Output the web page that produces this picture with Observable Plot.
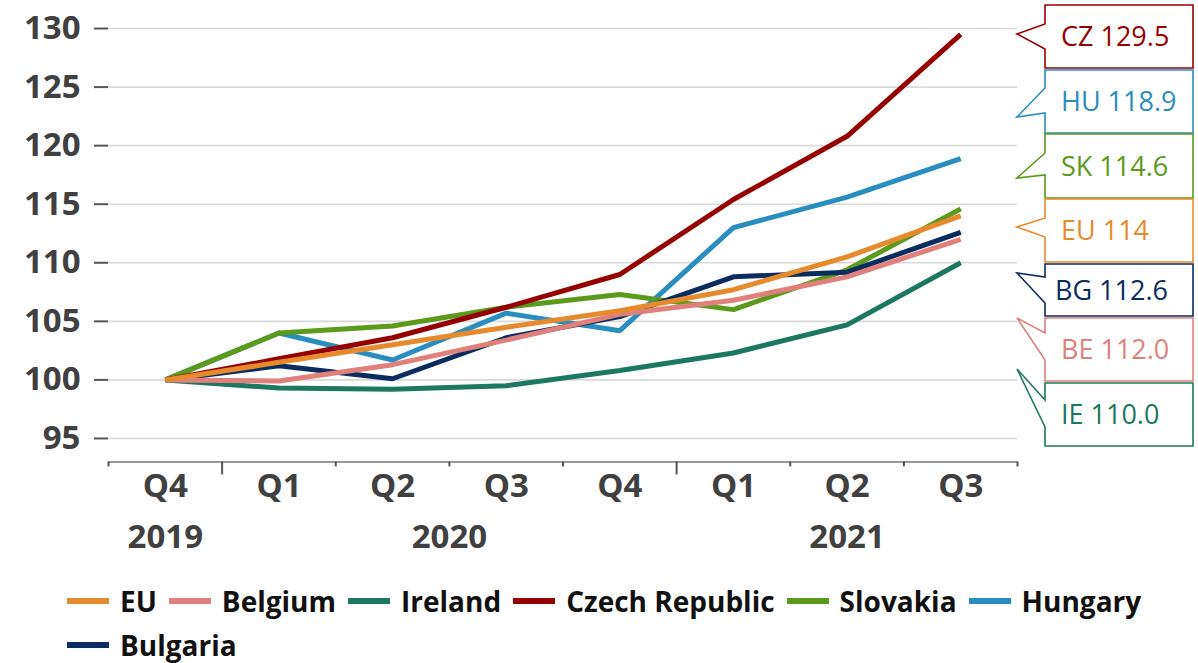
<!DOCTYPE html>
<html><head><meta charset="utf-8">
<script src="https://cdn.jsdelivr.net/npm/d3@7"></script>
<script src="https://cdn.jsdelivr.net/npm/@observablehq/plot@0.6"></script>
<style>
body{margin:0;background:#fff;font-family:"Open Sans",sans-serif;}
#wrap{position:relative;width:1198px;height:663px;overflow:hidden;}
#legend{position:absolute;left:67px;top:579px;width:1120px;display:flex;flex-wrap:wrap;column-gap:12px;}
.item{display:flex;align-items:center;height:44px;}
.sw{display:inline-block;width:42px;height:6px;margin-right:11px;}
.lbl{font-weight:700;font-size:28px;color:#111;line-height:26px;}
</style></head><body><div id="wrap"><div id="chart"></div><div id="legend"></div></div>
<script>
// categories / tick labels
const quarters = ["Q4","Q1","Q2","Q3","Q4","Q1","Q2","Q3"];
const yearLabels = ["2019","2020","2021"];
const yearPos = [0, 2.5, 6];
const yTicks = [95,100,105,110,115,120,125,130];

// series values (index, Q4 2019 = 100)
const eu = [100,101.5,103.0,104.5,105.9,107.7,110.5,114.0];
const belgium = [100,99.9,101.3,103.4,105.6,106.8,108.8,112.0];
const ireland = [100,99.3,99.2,99.5,100.8,102.3,104.7,110.0];
const czech = [100,101.8,103.6,106.2,109.0,115.4,120.8,129.5];
const slovakia = [100,104.0,104.6,106.2,107.3,106.0,109.4,114.6];
const hungary = [100,104.0,101.7,105.7,104.2,113.0,115.6,118.9];
const bulgaria = [100,101.2,100.1,103.6,105.4,108.8,109.2,112.6];

// legend / colours
const legendNames = ["EU","Belgium","Ireland","Czech Republic","Slovakia","Hungary","Bulgaria"];
const legendColors = ["#E68A2E","#DF817A","#1C7860","#950000","#5B9A1B","#2A8DC0","#0A2C5E"];

// callout labels
const calloutText = ["CZ 129.5","HU 118.9","SK 114.6","EU 114","BG 112.6","BE 112.0","IE 110.0"];
const calloutColors = ["#950000","#2A8DC0","#5B9A1B","#E68A2E","#0A2C5E","#DF817A","#1C7860"];

const seriesValues = [eu, belgium, ireland, czech, slovakia, hungary, bulgaria];
const rows = [];
seriesValues.forEach((vals, s) => vals.forEach((v, i) => rows.push({name: legendNames[s], i, v})));
// drawing order
const drawOrder = ["Ireland","Hungary","Slovakia","Czech Republic","Bulgaria","Belgium","EU"];
const colorOf = Object.fromEntries(legendNames.map((n, k) => [n, legendColors[k]]));

// callout geometry (layout only)
const boxTops = [5,70,134,199,264,318,383];
const boxHeights = [63,63,64,63,52,63,63];
const ptr = [[19,29,44],[18,47,43],[19,44,41],[19,28,38],[13,9,39],[15,0,42],[17,-14,44]];

function callouts() {
  const g = d3.create("svg:g");
  calloutText.forEach((t, k) => {
    const x0 = 1045, x1 = 1193, top = boxTops[k], h = boxHeights[k], c = calloutColors[k];
    const [a, tip, b] = ptr[k];
    const path = `M${x0},${top + a} L${x0},${top} L${x1},${top} L${x1},${top + h} L${x0},${top + h} L${x0},${top + b} L${x0 - 28},${top + tip} Z`;
    g.append("path").attr("d", path).attr("fill", "white").attr("stroke", c).attr("stroke-width", 1.6);
    g.append("text").attr("x", k === 4 ? 1055 : 1061).attr("y", top + h / 2).attr("dy", "0.36em")
      .attr("text-anchor", "start")
      .attr("fill", c).attr("font-size", 27).attr("font-family", "Open Sans, sans-serif").text(t);
  });
  return g.node();
}

const chart = Plot.plot({
  width: 1198, height: 575,
  marginLeft: 108, marginRight: 181, marginTop: 16.3, marginBottom: 113.6,
  x: {type: "linear", domain: [-0.5, 7.5], axis: null},
  y: {domain: [93, 131], axis: null},
  style: {fontFamily: "Open Sans, sans-serif", overflow: "visible", background: "white"},
  marks: [
    Plot.ruleY(yTicks, {stroke: "#d9d9d9", strokeWidth: 1.6}),
    Plot.axisY({ticks: yTicks, tickSize: 14, tickPadding: 14, stroke: "#555", strokeWidth: 2,
      fill: "#404040", fontSize: 33, fontWeight: 700, label: null}),
    Plot.ruleY([93], {stroke: "#999", strokeWidth: 2}),
    Plot.axisX({ticks: [-0.5, 1.5, 2.5, 3.5, 5.5, 6.5, 7.5], tickSize: 5, tickFormat: () => "", stroke: "#555", strokeWidth: 2, label: null}),
    Plot.axisX({ticks: [0.5, 4.5], tickSize: 13, tickFormat: () => "", stroke: "#555", strokeWidth: 2, label: null}),
    Plot.text(quarters, {x: (d, i) => i, text: d => d, frameAnchor: "bottom", dy: 35,
      fontSize: 33, fontWeight: 700, fill: "#404040"}),
    Plot.text(yearLabels, {x: (d, i) => yearPos[i], text: d => d, frameAnchor: "bottom", dy: 86,
      fontSize: 33, fontWeight: 700, fill: "#404040"}),
    ...drawOrder.map(n => Plot.line(rows.filter(r => r.name === n), {x: "i", y: "v", stroke: colorOf[n], strokeWidth: 5, strokeLinejoin: "miter", strokeLinecap: "butt"})),
    callouts
  ]
});
document.getElementById("chart").appendChild(chart);

const legend = d3.select("#legend");
legendNames.forEach((n, k) => {
  const it = legend.append("div").attr("class", "item");
  it.append("span").attr("class", "sw").style("background", legendColors[k]);
  it.append("span").attr("class", "lbl").text(n);
});
</script></body></html>
